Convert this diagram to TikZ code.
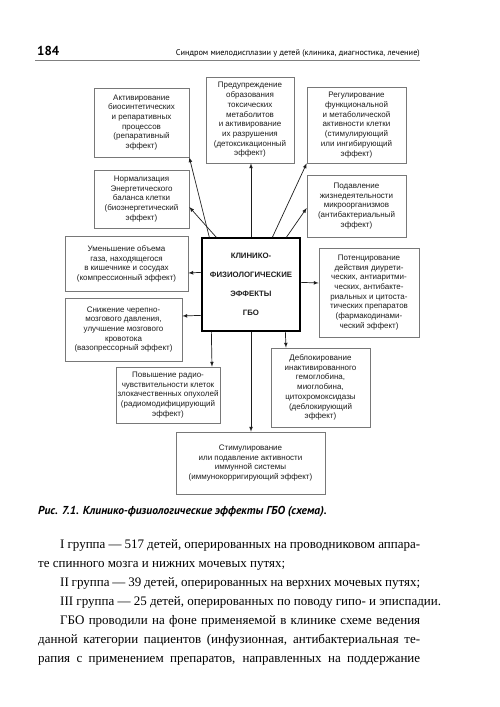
\documentclass[tikz,border=0pt]{standalone}
\usepackage{fontspec}
\setmainfont{Liberation Serif}
\setsansfont{Liberation Sans}
\newfontfamily\headfont{PT Sans}
\newcommand{\fullline}[1]{\makebox[382pt][s]{#1}}
\usetikzlibrary{calc}
\tikzset{>=latex}
\definecolor{Frame}{RGB}{120,120,120}
\definecolor{Ink}{RGB}{30,30,30}
\tikzset{
  effect/.style={draw=Frame, line width=0.6pt, align=center, inner sep=0.5pt, text=Ink, font=\sffamily\fontsize{8}{9.7}\selectfont},
  link/.style={->, draw=Ink, line width=0.7pt},
}

\begin{document}
\begin{tikzpicture}[x=1pt,y=-1pt]
        \fill[white](0,0) rectangle (500,707);
        \useasboundingbox (0,0) rectangle (500,707);
        \node[anchor=base west, inner sep=0, font=\headfont\bfseries\fontsize{13}{15}\selectfont] (pagenum) at (37,55) {184};
        \node[anchor=base east, inner sep=0, font=\headfont\fontsize{8.3}{10}\selectfont] (runhead) at (420,55) {Синдром миелодисплазии у детей (клиника, диагностика, лечение)};
        \draw[gray, line width=0.6pt](35,60)--(420,60);
        \node[effect, minimum width=95pt, minimum height=69pt] (biosynth) at (141.5,122.5) {Активирование\\биосинтетических\\и репаративных\\процессов\\(репаративный\\эффект)};
        \node[effect, minimum width=88pt, minimum height=86pt] (detox) at (250,120) {Предупреждение\\образования\\токсических\\метаболитов\\и активирование\\их разрушения\\(детоксикационный\\эффект)};
        \node[effect, minimum width=99pt, minimum height=76pt] (regul) at (356.5,125) {Регулирование\\функциональной\\и метаболической\\активности клетки\\(стимулирующий\\или ингибирующий\\эффект)};
        \node[effect, minimum width=95pt, minimum height=58pt] (energy) at (141.5,199) {Нормализация\\Энергетического\\баланса клетки\\(биоэнергетический\\эффект)};
        \node[effect, minimum width=99pt, minimum height=62pt] (antibac) at (356.5,206) {Подавление\\жизнедеятельности\\микроорганизмов\\(антибактериальный\\эффект)};
        \node[effect, minimum width=123pt, minimum height=55pt] (compress) at (126.5,264) {Уменьшение объема\\газа, находящегося\\в кишечнике и сосудах\\(компрессионный эффект)};
        \node[draw=black, line width=1.3pt, minimum width=98pt, minimum height=93pt, align=center, text=Ink, font=\sffamily\bfseries\fontsize{7.8}{19}\selectfont] (hbo) at (251,284.5) {КЛИНИКО-\\ФИЗИОЛОГИЧЕСКИЕ\\ЭФФЕКТЫ\\ГБО};
        \node[effect, minimum width=100pt, minimum height=89pt] (pharm) at (369,292.5) {Потенцирование\\действия диурети-\\ческих, антиаритми-\\ческих, антибакте-\\риальных и цитоста-\\тических препаратов\\(фармакодинами-\\ческий эффект)};
        \node[effect, minimum width=117pt, minimum height=63pt] (vaso) at (123.5,329.5) {Снижение черепно-\\мозгового давления,\\улучшение мозгового\\кровотока\\(вазопрессорный эффект)};
        \node[effect, minimum width=104pt, minimum height=56pt] (radio) at (168,395) {Повышение радио-\\чувствительности клеток\\злокачественных опухолей\\(радиомодифицирующий\\эффект)};
        \node[effect, minimum width=99pt, minimum height=79pt] (deblock) at (320.5,387.5) {Деблокирование\\инактивированного\\гемоглобина,\\миоглобина,\\цитохромоксидазы\\(деблокирующий\\эффект)};
        \node[effect, minimum width=149pt, minimum height=62pt] (immune) at (250.5,463) {Стимулирование\\или подавление активности\\иммунной системы\\(иммунокорригирующий эффект)};
        \draw[link]($(hbo.north west)+(8,0)$)--(biosynth.south east);
        \draw[link]($(hbo.north west)+(15,0)$)--($(energy.east)+(0,8)$);
        \draw[link](hbo.north)--(hbo.north |- detox.south);
        \draw[link]($(hbo.north west)+(71,0)$)--(regul.south west);
        \draw[link]($(hbo.north west)+(85,0)$)--($(antibac.west)+(0,2)$);
        \draw[link]($(hbo.north west)+(0,35)$)--($(compress.east)+(0,9)$);
        \draw[link]($(hbo.north west)+(0,78)$)--($(vaso.east)+(0,-13.5)$);
        \draw[link]($(hbo.north east)+(0,45)$)--($(pharm.west)+(0,-9.5)$);
        \draw[link]($(hbo.south west)+(10,0)$)--($(radio.north)+(44,0)$);
        \draw[link](hbo.south)--(hbo.south |- immune.north);
        \draw[link]($(hbo.south west)+(84,0)$)--($(deblock.north)+(-34.5,0)$);
        \node[anchor=base west, inner sep=0, font=\headfont\bfseries\itshape\fontsize{11.5}{13}\selectfont] (caption) at (38,514) {Рис. 7.1. Клинико-физиологические эффекты ГБО (схема).};
        \node[anchor=north west, inner sep=0, align=left, font=\fontsize{13}{19}\selectfont] (body) at (38,539) {%
          \fullline{\hspace*{22pt}I группа — 517 детей, оперированных на проводниковом аппара-}\\
          те спинного мозга и нижних мочевых путях;\\
          \fullline{\hspace*{22pt}II группа — 39 детей, оперированных на верхних мочевых путях;}\\
          \hspace*{22pt}III группа — 25 детей, оперированных по поводу гипо- и эписпадии.\\
          \fullline{\hspace*{22pt}ГБО проводили на фоне применяемой в клинике схеме ведения}\\
          \fullline{данной категории пациентов (инфузионная, антибактериальная те-}\\
          \fullline{рапия с применением препаратов, направленных на поддержание}};
\end{tikzpicture}
\end{document}
